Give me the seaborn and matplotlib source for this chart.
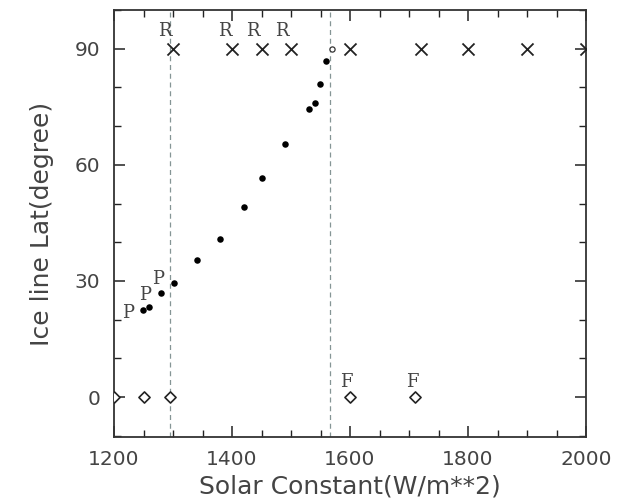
import matplotlib
matplotlib.use("Agg")
import matplotlib.pyplot as plt
import seaborn as sns
import pandas as pd
from matplotlib.ticker import MultipleLocator

sns.set_theme(style="ticks")
plt.rcParams['font.family'] = ['DejaVu Sans']

# Partial ice cover solutions (filled dots)
dot_x = [1249, 1260, 1279, 1302, 1340, 1380, 1420, 1450, 1490, 1530, 1541, 1549, 1559]
dot_y = [22.5, 23.2, 27.0, 29.4, 35.3, 40.8, 49.0, 56.6, 65.4, 74.3, 76.1, 80.9, 86.9]
# Ice-free solutions (crosses at 90)
cross_x = [1300, 1400, 1450, 1500, 1600, 1720, 1800, 1900, 2000]
cross_y = [90, 90, 90, 90, 90, 90, 90, 90, 90]
# Fully ice-covered solutions (diamonds at 0)
dia_x = [1200, 1250, 1295, 1600, 1710]
dia_y = [0, 0, 0, 0, 0]
# Small open circle
circ_x = [1569]
circ_y = [90]
# Dashed vertical lines
vlines = [1295, 1566]
# Annotations (label centres)
r_labels = [(1286, 94.5), (1388, 94.5), (1436, 94.5), (1484, 94.5)]
p_labels = [(1224, 21.7), (1253, 26.4), (1275, 30.4)]
f_labels = [(1593, 4.0), (1705, 4.0)]

df_dot = pd.DataFrame({"S": dot_x, "lat": dot_y})
df_cross = pd.DataFrame({"S": cross_x, "lat": cross_y})
df_dia = pd.DataFrame({"S": dia_x, "lat": dia_y})
df_circ = pd.DataFrame({"S": circ_x, "lat": circ_y})

fig = plt.figure(figsize=(6.39, 4.98), dpi=100)
ax = fig.add_axes([114/639, 1 - 437/498, (586 - 114)/639, (437 - 10)/498])

for v in vlines:
    ax.axvline(v, color="#859595", lw=0.9, ls=(0, (4, 3)), zorder=1)

sns.scatterplot(data=df_dot, x="S", y="lat", ax=ax, marker="o", s=22,
                color="black", edgecolor="black", linewidth=0, zorder=3)
sns.scatterplot(data=df_cross, x="S", y="lat", ax=ax, marker="x", s=75,
                color="#222222", linewidth=1.3, zorder=3)
sns.scatterplot(data=df_dia, x="S", y="lat", ax=ax, marker="D", s=32,
                facecolor="white", edgecolor="#222222", linewidth=1.2, zorder=3)
sns.scatterplot(data=df_circ, x="S", y="lat", ax=ax, marker="o", s=14,
                facecolor="white", edgecolor="#333333", linewidth=0.9, zorder=3)
for c in ax.collections:
    c.set_clip_on(True)

serif = ["DejaVu Serif"]
for lbls, t in ((r_labels, "R"), (p_labels, "P"), (f_labels, "F")):
    for (xl, yl) in lbls:
        ax.text(xl, yl, t, family=serif, fontsize=13, color="#444444",
                ha="center", va="center")

ax.set_xlim(1200, 2000)
ax.set_ylim(-10.3, 100)
ax.xaxis.set_major_locator(MultipleLocator(200))
ax.xaxis.set_minor_locator(MultipleLocator(50))
ax.yaxis.set_major_locator(MultipleLocator(30))
ax.yaxis.set_minor_locator(MultipleLocator(10))
ax.tick_params(which="both", direction="in", top=True, right=True,
               colors="#222222", labelcolor="#444444", labelsize=14.5)
ax.tick_params(axis="x", pad=9)
ax.tick_params(axis="y", pad=10)
ax.tick_params(which="major", length=8, width=1.1)
ax.tick_params(which="minor", length=5, width=1.0)
for sp in ax.spines.values():
    sp.set_color("#333333")
    sp.set_linewidth(1.3)

ax.set_xlabel("Solar Constant(W/m**2)", fontsize=18, color="#444444", labelpad=4)
ax.set_ylabel("Ice line Lat(degree)", fontsize=18, color="#444444", labelpad=15)

fig.savefig("out.png", dpi=100)
